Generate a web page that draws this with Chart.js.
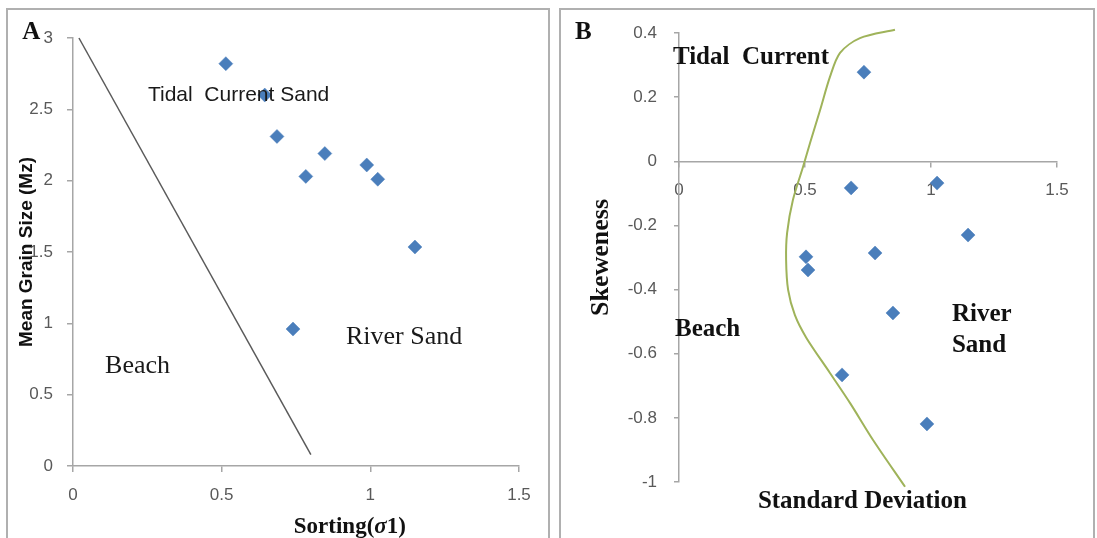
<!DOCTYPE html>
<html>
<head>
<meta charset="utf-8">
<script src="https://cdn.jsdelivr.net/npm/chart.js@4.4.0/dist/chart.umd.min.js"></script>
<style>
  body { margin: 0; background: #fff; width: 1097px; height: 538px; overflow: hidden; position: relative; }
  .frame { position: absolute; top: 8px; height: 560px; border: 2px solid #b0b0b0; box-sizing: border-box; }
  canvas { position: absolute; top: 0; }
</style>
</head>
<body>
<div class="frame" style="left:6px; width:544px;"></div>
<div class="frame" style="left:559px; width:536px;"></div>
<canvas id="chartA" width="555" height="538" style="left:0"></canvas>
<canvas id="chartB" width="542" height="538" style="left:555px"></canvas>
<script>
// Panel A: sorting vs mean grain size
const sortingA = [0.514, 0.645, 0.686, 0.783, 0.847, 0.988, 1.025, 1.15, 0.74];
const meanSizeA = [2.82, 2.60, 2.31, 2.03, 2.19, 2.11, 2.01, 1.535, 0.96];
const boundaryX = [0.02, 0.8];
const boundaryY = [3, 0.08];
const xTicksA = [0, 0.5, 1, 1.5];
const yTicksA = [0, 0.5, 1, 1.5, 2, 2.5, 3];

// Panel B: standard deviation vs skewness
const sortingB = [0.734, 0.683, 1.024, 1.147, 0.778, 0.504, 0.512, 0.849, 0.647, 0.984];
const skewB = [0.278, -0.083, -0.068, -0.23, -0.286, -0.298, -0.339, -0.473, -0.666, -0.819];
const curveX = [0.857, 0.718, 0.639, 0.599, 0.56, 0.52, 0.492, 0.452, 0.429, 0.425, 0.433, 0.46, 0.505, 0.599, 0.679, 0.77, 0.897];
const curveY = [0.41, 0.384, 0.338, 0.263, 0.16, 0.057, -0.018, -0.121, -0.223, -0.307, -0.401, -0.48, -0.55, -0.66, -0.754, -0.869, -1.015];
const xTicksB = [0, 0.5, 1, 1.5];
const yTicksB = [-1, -0.8, -0.6, -0.4, -0.2, 0, 0.2, 0.4];

const pts = (xs, ys) => xs.map((x, i) => ({x: x, y: ys[i]}));
const serif = 'Liberation Serif';
const sans = 'Liberation Sans';
const axisGray = '#a6a6a6';

// draws free text labels placed in data coordinates
const labelPlugin = {
  id: 'labels',
  afterDraw(chart, args, opts) {
    const {ctx, scales} = chart;
    ctx.save();
    ctx.textBaseline = 'middle';
    opts.items.forEach(l => {
      const px = scales.x.getPixelForValue(l.x);
      const py = scales.y.getPixelForValue(l.y);
      const parts = l.parts || [{t: l.text, f: l.font}];
      let w = 0;
      parts.forEach(p => { ctx.font = p.f; w += ctx.measureText(p.t).width; });
      let cx = l.align === 'center' ? px - w / 2 : px;
      ctx.fillStyle = l.color || '#111';
      ctx.textAlign = 'left';
      parts.forEach(p => {
        ctx.font = p.f;
        ctx.fillText(p.t, cx, py);
        cx += ctx.measureText(p.t).width;
      });
    });
    ctx.restore();
  }
};

function axis(min, max, ticks, tickPad, tickLen, size) {
  return {
    type: 'linear',
    min: min,
    max: max,
    afterBuildTicks: s => { s.ticks = ticks.map(v => ({value: v})); },
    ticks: {
      font: {family: sans, size: 17},
      color: '#595959',
      padding: tickPad,
      callback: v => String(Math.round(v * 10) / 10)
    },
    grid: {drawOnChartArea: false, drawTicks: true, tickLength: tickLen, color: axisGray, lineWidth: 1.5},
    border: {display: true, color: axisGray, width: 1.5},
    afterFit: s => { if (s.isHorizontal()) s.height = size; else s.width = size; }
  };
}

const diamond = {
  pointStyle: 'rectRot',
  pointRadius: 7,
  pointHoverRadius: 7,
  backgroundColor: '#4A7EBB',
  borderColor: '#4F81BD',
  borderWidth: 0.5,
  showLine: false
};

const common = {
  responsive: false,
  animation: false,
  devicePixelRatio: 1,
  events: []
};

const yA = axis(0, 3, yTicksA, 14, 6, 73);
yA.title = {display: true, text: 'Mean Grain Size (Mz)', font: {family: sans, size: 19, weight: 'bold'}, color: '#111', padding: {top: 15.6}};

new Chart(document.getElementById('chartA'), {
  type: 'scatter',
  data: {
    datasets: [
      Object.assign({data: pts(sortingA, meanSizeA)}, diamond),
      {data: pts(boundaryX, boundaryY), showLine: true, pointRadius: 0, borderColor: '#5a5a5a', borderWidth: 1.5, clip: false}
    ]
  },
  options: Object.assign({}, common, {
    layout: {padding: {left: 0, top: 38, right: 36, bottom: 0}},
    scales: {x: axis(0, 1.5, xTicksA, 13, 6, 72), y: yA},
    plugins: {
      legend: {display: false},
      tooltip: {enabled: false},
      labels: {items: [
        {text: 'A', x: -0.171, y: 3.04, font: 'bold 25px ' + serif},
        {text: 'Tidal  Current Sand', x: 0.252, y: 2.60, font: '21px ' + sans, color: '#1a1a1a'},
        {text: 'River Sand', x: 0.918, y: 0.904, font: '26px ' + serif, color: '#1a1a1a'},
        {text: 'Beach', x: 0.108, y: 0.70, font: '26px ' + serif, color: '#1a1a1a'},
        {x: 0.931, y: -0.427, align: 'center', parts: [
          {t: 'Sorting(', f: 'bold 23px ' + serif},
          {t: 'σ', f: 'italic bold 23px ' + serif},
          {t: '1)', f: 'bold 23px ' + serif}
        ]}
      ]}
    }
  }),
  plugins: [labelPlugin]
});

const xB = axis(0, 1.5, xTicksB, 13.5, 5, 40);
xB.position = {y: 0};
const yB = axis(-1, 0.4, yTicksB, 17, 5, 124);
yB.title = {display: true, text: 'Skeweness', font: {family: serif, size: 26, weight: 'bold'}, color: '#111', padding: {top: 31}};

new Chart(document.getElementById('chartB'), {
  type: 'scatter',
  data: {
    datasets: [
      Object.assign({data: pts(sortingB, skewB)}, diamond),
      {data: pts(curveX, curveY), showLine: true, pointRadius: 0, borderColor: '#9fb35a', borderWidth: 2, tension: 0.3, clip: false}
    ]
  },
  options: Object.assign({}, common, {
    layout: {padding: {left: 0, top: 33, right: 40, bottom: 56}},
    scales: {x: xB, y: yB},
    plugins: {
      legend: {display: false},
      tooltip: {enabled: false},
      labels: {items: [
        {text: 'B', x: -0.413, y: 0.4, font: 'bold 25px ' + serif},
        {text: 'Tidal  Current', x: -0.024, y: 0.325, font: 'bold 25px ' + serif},
        {text: 'Beach', x: -0.016, y: -0.526, font: 'bold 25px ' + serif},
        {text: 'River', x: 1.083, y: -0.479, font: 'bold 25px ' + serif},
        {text: 'Sand', x: 1.083, y: -0.573, font: 'bold 25px ' + serif},
        {text: 'Standard Deviation', x: 0.313, y: -1.062, font: 'bold 25px ' + serif}
      ]}
    }
  }),
  plugins: [labelPlugin]
});
</script>
</body>
</html>
